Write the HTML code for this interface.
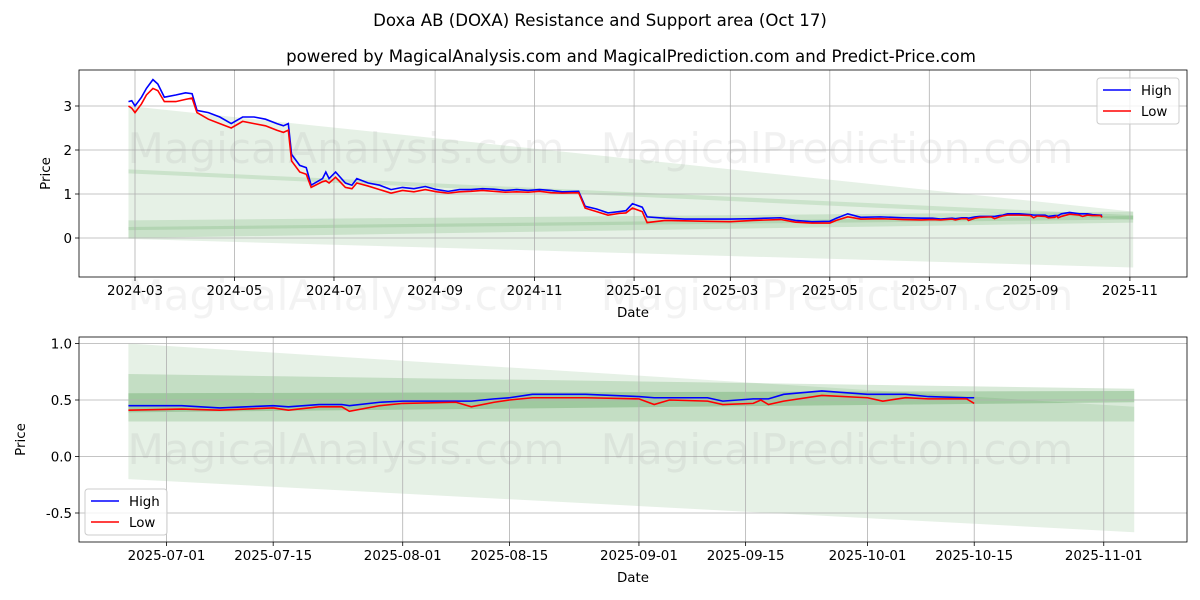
<!DOCTYPE html>
<html><head><meta charset="utf-8"><style>
body{margin:0;background:#fff;}
svg{display:block;font-family:"DejaVu Sans","Liberation Sans",sans-serif;}
</style></head><body>
<svg id="chart" width="1200" height="600" viewBox="0 0 1200 600"></svg>
<script>
const dates=["2024-02-26","2024-02-28","2024-03-01","2024-03-05","2024-03-08","2024-03-12","2024-03-15","2024-03-19","2024-03-26","2024-04-01","2024-04-05","2024-04-08","2024-04-15","2024-04-22","2024-04-29","2024-05-06","2024-05-13","2024-05-20","2024-05-27","2024-05-31","2024-06-03","2024-06-05","2024-06-10","2024-06-14","2024-06-17","2024-06-24","2024-06-26","2024-06-28","2024-07-02","2024-07-08","2024-07-12","2024-07-15","2024-07-22","2024-07-29","2024-08-05","2024-08-12","2024-08-19","2024-08-26","2024-09-02","2024-09-09","2024-09-16","2024-09-23","2024-09-30","2024-10-07","2024-10-14","2024-10-21","2024-10-28","2024-11-04","2024-11-11","2024-11-18","2024-11-28","2024-12-02","2024-12-09","2024-12-16","2024-12-23","2024-12-27","2024-12-31","2025-01-06","2025-01-09","2025-01-20","2025-02-01","2025-02-15","2025-03-01","2025-03-15","2025-04-01","2025-04-10","2025-04-20","2025-05-01","2025-05-05","2025-05-12","2025-05-20","2025-06-01","2025-06-15","2025-06-26","2025-07-03","2025-07-08","2025-07-15","2025-07-17","2025-07-21","2025-07-24","2025-07-25","2025-07-29","2025-08-01","2025-08-08","2025-08-10","2025-08-13","2025-08-15","2025-08-18","2025-08-25","2025-09-01","2025-09-03","2025-09-05","2025-09-10","2025-09-12","2025-09-16","2025-09-17","2025-09-18","2025-09-20","2025-09-25","2025-10-01","2025-10-03","2025-10-06","2025-10-09","2025-10-14","2025-10-15"];
const highs=[3.10,3.12,3.00,3.20,3.40,3.60,3.50,3.20,3.25,3.30,3.28,2.90,2.85,2.75,2.60,2.75,2.75,2.70,2.60,2.55,2.60,1.90,1.65,1.60,1.20,1.35,1.50,1.35,1.50,1.25,1.20,1.35,1.25,1.20,1.10,1.15,1.12,1.17,1.10,1.06,1.10,1.10,1.12,1.11,1.08,1.10,1.08,1.10,1.08,1.05,1.06,0.72,0.66,0.57,0.60,0.62,0.78,0.70,0.48,0.45,0.43,0.43,0.43,0.44,0.46,0.40,0.37,0.38,0.45,0.55,0.47,0.48,0.46,0.45,0.45,0.43,0.45,0.44,0.46,0.46,0.45,0.48,0.49,0.49,0.49,0.51,0.52,0.55,0.55,0.53,0.52,0.52,0.52,0.49,0.51,0.51,0.51,0.55,0.58,0.55,0.55,0.55,0.53,0.52,0.52];
const lows=[3.00,2.95,2.85,3.05,3.25,3.40,3.35,3.10,3.10,3.15,3.18,2.85,2.70,2.60,2.50,2.65,2.60,2.55,2.45,2.40,2.45,1.75,1.50,1.45,1.15,1.28,1.30,1.25,1.38,1.15,1.12,1.25,1.18,1.10,1.02,1.08,1.05,1.10,1.05,1.02,1.05,1.06,1.08,1.06,1.04,1.05,1.04,1.06,1.03,1.02,1.03,0.68,0.60,0.52,0.56,0.57,0.68,0.60,0.35,0.40,0.39,0.38,0.37,0.40,0.42,0.36,0.34,0.34,0.40,0.48,0.43,0.44,0.42,0.41,0.42,0.41,0.43,0.41,0.44,0.44,0.40,0.45,0.47,0.48,0.44,0.48,0.50,0.52,0.52,0.51,0.46,0.50,0.49,0.46,0.47,0.50,0.46,0.49,0.54,0.52,0.49,0.52,0.51,0.51,0.47];
const topTicksY=[0,1,2,3];
const topTicksX=["2024-03","2024-05","2024-07","2024-09","2024-11","2025-01","2025-03","2025-05","2025-07","2025-09","2025-11"];
const botTicksY=[-0.5,0.0,0.5,1.0];
const botTicksX=["2025-07-01","2025-07-15","2025-08-01","2025-08-15","2025-09-01","2025-09-15","2025-10-01","2025-10-15","2025-11-01"];
const bandStart="2024-02-26", topBandEnd="2025-11-03", botBandEnd="2025-11-05", botStart="2025-06-26";
const topBands=[[-0.02,3.0,-0.67,0.6,0.12],[1.47,1.56,0.42,0.52,0.14],[0.0,0.4,0.35,0.6,0.15],[0.18,0.25,0.42,0.5,0.15]];
const botBands=[[-0.2,1.0,-0.67,0.44,0.12],[0.31,0.73,0.31,0.6,0.18],[0.39,0.56,0.48,0.58,0.25]];

const NS="http://www.w3.org/2000/svg";
const svg=document.getElementById('chart');
function mk(tag,attrs,parent){const e=document.createElementNS(NS,tag);for(const k in attrs)e.setAttribute(k,attrs[k]);(parent||svg).appendChild(e);return e;}
function txt(s,x,y,size,anchor,parent,extra){const t=mk('text',Object.assign({x:x,y:y,'font-size':size,'text-anchor':anchor||'middle',fill:'#000'},extra||{}),parent);t.textContent=s;return t;}
const day=s=>Date.parse(s.length===7?s+"-01":s)/86400000;

let t1=txt("Doxa AB (DOXA) Resistance and Support area (Oct 17)",600,26,16.6);

let t2=txt("powered by MagicalAnalysis.com and MagicalPrediction.com and Predict-Price.com",631,62,16.6);


function panel(cfg){
  const g=mk('g',{});
  
  
  const X=d=>cfg.x0+(day(d)-day(cfg.d0))*cfg.pxDay;
  const Y=v=>cfg.y0-v*cfg.pxUnit;
  const clipId=cfg.name+'-clip';
  const cp=mk('clipPath',{id:clipId},g);mk('rect',{x:cfg.L,y:cfg.T,width:cfg.R-cfg.L,height:cfg.B-cfg.T},cp);
  const inner=mk('g',{'clip-path':'url(#'+clipId+')'},g);
  const bx0=X(cfg.bandFrom), bx1=X(cfg.bandTo);
  cfg.bands.forEach(b=>{
    const p=mk('polygon',{points:`${bx0},${Y(b[1])} ${bx1},${Y(b[3])} ${bx1},${Y(b[2])} ${bx0},${Y(b[0])}`,fill:'#2e8b2e','fill-opacity':b[4]},inner);
    
    
  });
  cfg.ticksX.forEach(d=>{const x=X(d);mk('line',{x1:x,x2:x,y1:cfg.T,y2:cfg.B,stroke:'#b0b0b0','stroke-width':0.8},inner);
    mk('line',{x1:x,x2:x,y1:cfg.B,y2:cfg.B+4,stroke:'#000','stroke-width':0.8},g);
    const lb=txt(d,x,cfg.B+18,13.4,'middle',g);});
  cfg.ticksY.forEach(v=>{const y=Y(v);mk('line',{x1:cfg.L,x2:cfg.R,y1:y,y2:y,stroke:'#b0b0b0','stroke-width':0.8},inner);
    mk('line',{x1:cfg.L-4,x2:cfg.L,y1:y,y2:y,stroke:'#000','stroke-width':0.8},g);
    const lb=txt(cfg.fmt(v),cfg.L-7,y+5,13.4,'end',g);});
  const wm1=txt("MagicalAnalysis.com",cfg.wmx1,cfg.wmy,42,'middle',inner,{fill:'#888','fill-opacity':0.12});
  
  const wm2=txt("MagicalPrediction.com",cfg.wmx2,cfg.wmy,42,'middle',inner,{fill:'#888','fill-opacity':0.12});
  
  const idx=dates.map((d,i)=>i).filter(i=>day(dates[i])>=day(cfg.dataFrom));
  const hp=mk('polyline',{points:idx.map(i=>X(dates[i])+','+Y(highs[i])).join(' '),fill:'none',stroke:'#0000ff','stroke-width':1.6},inner);
  
  const lp=mk('polyline',{points:idx.map(i=>X(dates[i])+','+Y(lows[i])).join(' '),fill:'none',stroke:'#ff0000','stroke-width':1.6},inner);
  
  mk('rect',{x:cfg.L,y:cfg.T,width:cfg.R-cfg.L,height:cfg.B-cfg.T,fill:'none',stroke:'#000','stroke-width':0.8},g);
  const xl=txt("Date",(cfg.L+cfg.R)/2,cfg.B+40,13.4,'middle',g);
  const cy=(cfg.T+cfg.B)/2;
  const yl=txt("Price",cfg.ylx,cy,13.4,'middle',g,{transform:`rotate(-90 ${cfg.ylx} ${cy})`});
  const lg=mk('g',{},g);
  mk('rect',{x:cfg.lgx,y:cfg.lgy,width:82,height:46,rx:3,fill:'#fff','fill-opacity':0.8,stroke:'#ccc'},lg);
  mk('line',{x1:cfg.lgx+6,x2:cfg.lgx+34,y1:cfg.lgy+12,y2:cfg.lgy+12,stroke:'#0000ff','stroke-width':1.6},lg);
  mk('line',{x1:cfg.lgx+6,x2:cfg.lgx+34,y1:cfg.lgy+33,y2:cfg.lgy+33,stroke:'#ff0000','stroke-width':1.6},lg);
  let e1=txt("High",cfg.lgx+44,cfg.lgy+17,13.4,'start',lg);
  let e2=txt("Low",cfg.lgx+44,cfg.lgy+38,13.4,'start',lg);
}
let wmA=txt("MagicalAnalysis.com",346,310,42,'middle',svg,{fill:'#888','fill-opacity':0.1});

let wmB=txt("MagicalPrediction.com",837,310,42,'middle',svg,{fill:'#888','fill-opacity':0.1});


panel({name:'top-panel',L:79,R:1187,T:70,B:277,d0:"2024-03-01",x0:135,pxDay:1.631,y0:238,pxUnit:44,
  ticksX:topTicksX,ticksY:topTicksY,fmt:v=>String(v),bands:topBands,bandFrom:bandStart,bandTo:topBandEnd,dataFrom:"2024-01-01",
  wmx1:346,wmx2:837,wmy:163,ylx:50,lgx:1097,lgy:78});
panel({name:'bottom-panel',L:79,R:1187,T:337,B:542,d0:"2025-07-01",x0:166.5,pxDay:7.62,y0:456.5,pxUnit:113,
  ticksX:botTicksX,ticksY:botTicksY,fmt:v=>v.toFixed(1),bands:botBands,bandFrom:botStart,bandTo:botBandEnd,dataFrom:botStart,
  wmx1:346,wmx2:837,wmy:464,ylx:25,lgx:85,lgy:489});
</script>
</body></html>
